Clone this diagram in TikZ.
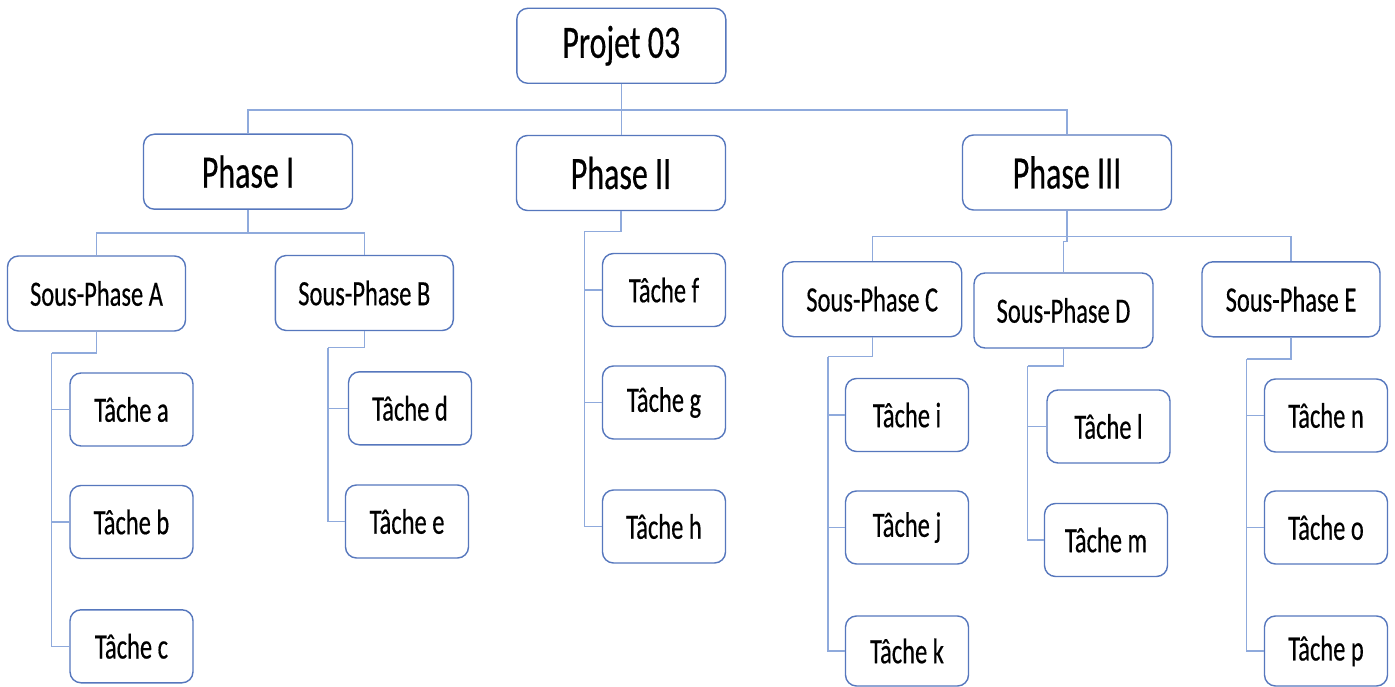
\documentclass[tikz,border=0pt]{standalone}
\usepackage{fontspec}
\usepackage{graphicx}
\setmainfont{Carlito}[FakeBold=0.5]
\definecolor{boxc}{HTML}{5677BD}
\definecolor{linec}{HTML}{8FAADC}
\newcommand{\st}[1]{\raisebox{-1.5pt}{\scalebox{1}[1.45]{#1}}}
\begin{document}
\begin{tikzpicture}[x=1pt,y=-1pt,
  box/.style={draw=boxc, line width=1.4pt, rounded corners=11pt, fill=white, inner sep=0pt, align=center},
  big/.style={box, minimum width=209pt, minimum height=75pt, font=\fontsize{32}{36}\selectfont},
  mid/.style={box, minimum width=178pt, minimum height=75pt, font=\fontsize{24.5}{28}\selectfont},
  task/.style={box, minimum width=123pt, minimum height=73pt, font=\fontsize{24.5}{28}\selectfont},
  conn/.style={draw=linec, line width=1.1pt}]
\useasboundingbox (0,0) rectangle (1395,687);
\fill[white] (0,0) rectangle (1395,687);

% bus coordinates
\coordinate (b0) at (0,110);
\coordinate (c1) at (0,233);
\coordinate (b3) at (0,236.7);
\coordinate (j3) at (1067,241.7);
\coordinate (cA) at (51.7,353);
\coordinate (cB) at (328,347.5);
\coordinate (c2) at (584.3,231.7);
\coordinate (cC) at (828,356.7);
\coordinate (cD) at (1027.7,366);
\coordinate (cE) at (1246.7,359);

% nodes
\node[big] (proj) at (621.3,45.8) {\st{Projet 03}};
\node[big] (ph1) at (248,171.7) {\st{Phase I}};
\node[big] (ph2) at (621,173) {\st{Phase II}};
\node[big] (ph3) at (1067,172.5) {\st{Phase III}};

\node[mid] (sA) at (96.5,293.5) {\st{Sous-Phase A}};
\node[mid] (sB) at (364.3,293) {\st{Sous-Phase B}};
\node[mid, minimum width=179pt] (sC) at (872.2,299.2) {\st{Sous-Phase C}};
\node[mid, minimum width=179pt] (sD) at (1063.5,310.5) {\st{Sous-Phase D}};
\node[mid] (sE) at (1291,299.3) {\st{Sous-Phase E}};

\node[task] (ta) at (131.5,409.5) {\st{Tâche a}};
\node[task] (tb) at (131.5,522) {\st{Tâche b}};
\node[task] (tc) at (131.5,646.3) {\st{Tâche c}};
\node[task] (td) at (410,408.3) {\st{Tâche d}};
\node[task] (te) at (407,521.5) {\st{Tâche e}};
\node[task] (tf) at (664,290) {\st{Tâche f}};
\node[task] (tg) at (664,402.5) {\st{Tâche g}};
\node[task] (th) at (664,526.5) {\st{Tâche h}};
\node[task] (ti) at (907,415) {\st{Tâche i}};
\node[task] (tj) at (907,527.5) {\st{Tâche j}};
\node[task, minimum height=70pt] (tk) at (907,651) {\st{Tâche k}};
\node[task] (tl) at (1108.5,426.5) {\st{Tâche l}};
\node[task] (tm) at (1106,540) {\st{Tâche m}};
\node[task] (tn) at (1326,415.5) {\st{Tâche n}};
\node[task] (to) at (1326,527.5) {\st{Tâche o}};
\node[task, minimum height=70pt] (tp) at (1326,651) {\st{Tâche p}};

% connectors
\draw[conn] (proj.south) -- (proj.south |- ph2.north);
\draw[conn] (proj.south |- b0) -| (ph1.north);
\draw[conn] (proj.south |- b0) -| (ph3.north);

\draw[conn] (ph1.south) -- (ph1.south |- c1) -| (sA.north);
\draw[conn] (ph1.south |- c1) -| (sB.north);

\draw[conn] (sA.south) |- (cA);
\draw[conn] (cA) |- (ta.west);
\draw[conn] (cA) |- (tb.west);
\draw[conn] (cA) |- (tc.west);

\draw[conn] (sB.south) |- (cB);
\draw[conn] (cB) |- (td.west);
\draw[conn] (cB) |- (te.west);

\draw[conn] (ph2.south) |- (c2);
\draw[conn] (c2) |- (tf.west);
\draw[conn] (c2) |- (tg.west);
\draw[conn] (c2) |- (th.west);

\draw[conn] (ph3.south) -- (ph3.south |- b3);
\draw[conn] (ph3.south |- b3) -| (sC.north);
\draw[conn] (ph3.south |- b3) -| (sE.north);
\draw[conn] (ph3.south |- b3) -- (j3) -| (sD.north);

\draw[conn] (sC.south) |- (cC);
\draw[conn] (cC) |- (ti.west);
\draw[conn] (cC) |- (tj.west);
\draw[conn] (cC) |- (tk.west);

\draw[conn] (sD.south) |- (cD);
\draw[conn] (cD) |- (tl.west);
\draw[conn] (cD) |- (tm.west);

\draw[conn] (sE.south) |- (cE);
\draw[conn] (cE) |- (tn.west);
\draw[conn] (cE) |- (to.west);
\draw[conn] (cE) |- (tp.west);
\end{tikzpicture}
\end{document}
